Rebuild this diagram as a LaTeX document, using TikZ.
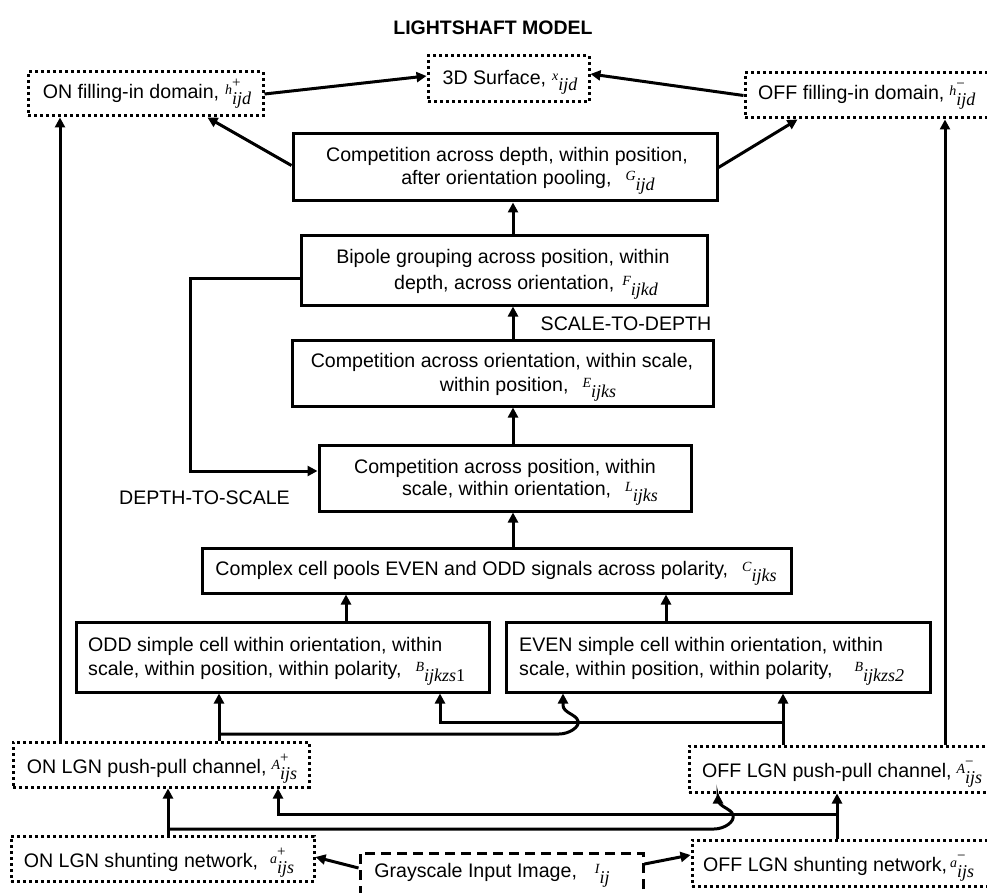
\documentclass[tikz,border=0pt]{standalone}
\usepackage{fontspec}
\setmainfont{Liberation Sans}
\newfontfamily\tms{Liberation Serif}
\usetikzlibrary{arrows.meta}
\newcommand\msym[3]{{\tms\itshape\fontsize{14}{14}\selectfont\raisebox{4pt}{#1}}\makebox[0pt][l]{\raisebox{11pt}{\tms\fontsize{15}{15}\selectfont #2}}\raisebox{-6pt}{\tms\itshape\fontsize{18}{18}\selectfont #3}}
\begin{document}
\begin{tikzpicture}[x=1pt,y=-1pt,
 sbox/.style={draw, line width=3pt, rectangle, inner sep=0pt},
 dbox/.style={draw, line width=3pt, dash pattern=on 3pt off 3pt, rectangle, inner sep=0pt},
 gbox/.style={draw, line width=3pt, dash pattern=on 10pt off 6pt, rectangle, inner sep=0pt},
 txt/.style={inner sep=0pt, font=\fontsize{19.6}{23}\selectfont, anchor=base},
 ltxt/.style={txt, anchor=base west},
 arr/.style={line width=3pt, -{Triangle[length=10pt,width=10pt]}},
]
\useasboundingbox (0,0) rectangle (987,893);
\clip (0,0) rectangle (987,893);

\node[font=\bfseries\fontsize{19.5}{19.5}\selectfont, inner sep=0pt] (title) at (493,28) {LIGHTSHAFT MODEL};

% boxes
\node[dbox, minimum width=235pt, minimum height=44pt] (ONfill) at (145.5,94) {};
\node[dbox, minimum width=161pt, minimum height=46pt] (Surf) at (508.5,79) {};
\node[dbox, minimum width=255pt, minimum height=45pt] (OFFfill) at (872.5,95.5) {};
\node[sbox, minimum width=424pt, minimum height=67pt] (G) at (505,167.5) {};
\node[sbox, minimum width=406pt, minimum height=69pt] (F) at (504,270.5) {};
\node[sbox, minimum width=421pt, minimum height=66pt] (E) at (502.5,373) {};
\node[sbox, minimum width=372pt, minimum height=66pt] (L) at (505,478) {};
\node[sbox, minimum width=589pt, minimum height=45pt] (C) at (496.5,570.5) {};
\node[sbox, minimum width=413pt, minimum height=70pt] (ODD) at (282.5,657) {};
\node[sbox, minimum width=424pt, minimum height=70pt] (EVEN) at (718,657) {};
\node[dbox, minimum width=296pt, minimum height=45pt] (ONpp) at (161,764.5) {};
\node[dbox, minimum width=303pt, minimum height=45pt] (ONsh) at (162.5,858.5) {};
\node[dbox, minimum width=311pt, minimum height=46pt] (OFFpp) at (844.5,769) {};
\node[dbox, minimum width=308pt, minimum height=46pt] (OFFsh) at (846,863) {};
\node[gbox, minimum width=283pt, minimum height=57pt] (Gray) at (501.5,881.5) {};

% texts
\node[txt] (tONfill) at (147,99) {ON filling-in domain,\hspace{6pt}\msym{h}{+}{ijd}};
\node[txt] (tSurf) at (510,85) {3D Surface,\hspace{6pt}\msym{x}{}{ijd}};
\node[ltxt] (tOFFfill) at (758,100) {OFF filling-in domain,\hspace{5pt}\msym{h}{−}{ijd}};
\node[txt] (tG1) at (507,162) {Competition across depth, within position,};
\node[txt] (tG2) at (528,185) {after orientation pooling,\hspace{14pt}\msym{G}{}{ijd}};
\node[txt] (tF1) at (503,263) {Bipole grouping across position, within};
\node[txt] (tF2) at (526,289) {depth, across orientation,\hspace{8pt}\msym{F}{}{ijkd}};
\node[txt] (tE1) at (502,367) {Competition across orientation, within scale,};
\node[txt] (tE2) at (528,391) {within position,\hspace{14pt}\msym{E}{}{ijks}};
\node[txt] (tL1) at (505,473) {Competition across position, within};
\node[txt] (tL2) at (530,495) {scale, within orientation,\hspace{14pt}\msym{L}{}{ijks}};
\node[txt] (tC) at (496,575) {Complex cell pools EVEN and ODD signals across polarity,\hspace{14pt}\msym{C}{}{ijks}};
\node[ltxt] (tODD1) at (88,651) {ODD simple cell within orientation, within};
\node[ltxt] (tODD2) at (88,675) {scale, within position, within polarity,\hspace{14pt}\msym{B}{}{ijkzs\upshape 1}};
\node[ltxt] (tEVEN1) at (519,651) {EVEN simple cell within orientation, within};
\node[ltxt] (tEVEN2) at (519,675) {scale, within position, within polarity,\hspace{22pt}\msym{B}{}{ijkzs2}};
\node[txt] (tONpp) at (162,773) {ON LGN push-pull channel,\hspace{5pt}\msym{A}{+}{ijs}};
\node[txt] (tONsh) at (159,867) {ON LGN shunting network,\hspace{12pt}\msym{a}{+}{ijs}};
\node[ltxt] (tOFFpp) at (702,777) {OFF LGN push-pull channel,\hspace{5pt}\msym{A}{−}{ijs}};
\node[ltxt] (tOFFsh) at (703,871) {OFF LGN shunting network,\hspace{3pt}\msym{a}{−}{ijs}};
\node[txt] (tGray) at (492,877) {Grayscale Input Image,\hspace{18pt}\msym{I}{}{ij}};
\node[txt] (tS2D) at (626,330) {SCALE-TO-DEPTH};
\node[txt] (tD2S) at (204.5,504) {DEPTH-TO-SCALE};

% helper coordinates
\coordinate (x513) at (513,0);
\coordinate (x346) at (346,0);
\coordinate (x666) at (666,0);
\coordinate (x60) at (60,0);
\coordinate (x945) at (945,0);
\coordinate (x219) at (219,0);
\coordinate (x440) at (440,0);
\coordinate (x563) at (563,0);
\coordinate (x783) at (783,0);
\coordinate (x168) at (168,0);
\coordinate (x278) at (278,0);
\coordinate (x718) at (718,0);
\coordinate (x837) at (837,0);
\coordinate (j1) at (219,734);
\coordinate (j2) at (783,722);
\coordinate (j3) at (168,829);
\coordinate (j4) at (837,814);

% connectors top
\draw[arr] (ONfill.east) -- ([yshift=3pt]Surf.west);
\draw[arr] (OFFfill.west) -- ([yshift=5pt]Surf.east);
\draw[arr] ([yshift=2pt]G.west) -- ([xshift=62pt]ONfill.south);
\draw[arr] (G.east) -- ([xshift=-75pt]OFFfill.south);
\draw[arr] (F.north -| x513) -- (G.south -| x513);
\draw[arr] (E.north -| x513) -- (F.south -| x513);
\draw[arr] (L.north -| x513) -- (E.south -| x513);
\draw[arr] (C.north -| x513) -- (L.south -| x513);
\draw[arr] ([yshift=-7.5pt]F.west) -- ++(-109,0) |- ([yshift=7pt]L.west);
\draw[arr] (ODD.north -| x346) -- (C.south -| x346);
\draw[arr] (EVEN.north -| x666) -- (C.south -| x666);

% long verticals
\draw[arr] (ONpp.north -| x60) -- (ONfill.south -| x60);
\draw[arr] (OFFpp.north -| x945) -- (OFFfill.south -| x945);

% push-pull to simple cells
\draw[arr] (ONpp.north -| x219) -- (ODD.south -| x219);
\draw[arr] (OFFpp.north -| x783) -- (EVEN.south -| x783);
\draw[arr] (j2) -| (ODD.south -| x440);
\draw[arr] (j1) -- (559,734) .. controls (569,734) and (580,727) .. (578,721) .. controls (576,714) and (563,713) .. (563,705) -- (EVEN.south -| x563);

% shunting to push-pull
\draw[arr] (ONsh.north -| x168) -- (ONpp.south -| x168);
\draw[arr] (OFFsh.north -| x837) -- (OFFpp.south -| x837);
\draw[arr] (j4) -| (ONpp.south -| x278);
\draw[arr] (j3) -- (714,829) .. controls (724,829) and (735,822) .. (733,815) .. controls (731,808) and (718,807) .. (718,799) -- (OFFpp.south -| x718);

% input
\draw[arr] ([yshift=13.5pt]Gray.west) -- ([yshift=1.5pt]ONsh.east);
\draw[arr] ([yshift=17.5pt]Gray.east) -- ([yshift=8pt]OFFsh.west);
\end{tikzpicture}
\end{document}
